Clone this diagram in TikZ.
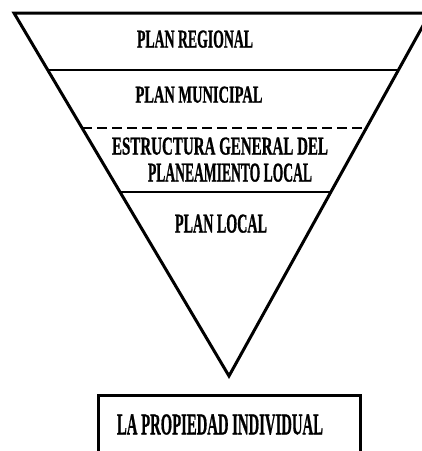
\documentclass[tikz,border=0pt]{standalone}
\usepackage{fontspec}
\setmainfont{Liberation Serif}
\newfontfamily\heavyfont[FakeBold=1.2]{Liberation Serif Bold}
\usepackage{graphicx}
\usetikzlibrary{calc}
\newcommand{\fitlbl}[3]{\resizebox{#1pt}{#2pt}{\heavyfont #3}}
\tikzset{
  edge/.style={line width=3pt, line join=miter},
  divider/.style={line width=2.3pt},
  dashdivider/.style={line width=2.5pt, dash pattern=on 10pt off 5pt},
  lbl/.style={inner sep=0pt, anchor=south}
}
\begin{document}
\begin{tikzpicture}[x=1pt,y=-1pt]
\useasboundingbox (0,0) rectangle (422,451);
\coordinate (TL) at (14,13);
\coordinate (TR) at (430,13);
\coordinate (AP) at (229,376);
\draw[edge] (TL) -- (TR) -- (AP) -- cycle;
\coordinate (L1) at ($(TL)!0.157!(AP)$);
\coordinate (R1) at ($(TR)!0.157!(AP)$);
\coordinate (L2) at ($(TL)!0.3168!(AP)$);
\coordinate (R2) at ($(TR)!0.3168!(AP)$);
\coordinate (L3) at ($(TL)!0.4931!(AP)$);
\coordinate (R3) at ($(TR)!0.4931!(AP)$);
\draw[divider] (L1) -- (R1);
\draw[dashdivider] (L2) -- (R2);
\draw[divider] (L3) -- (R3);
\node[lbl] (regional) at (195,48) {\fitlbl{116}{17}{PLAN REGIONAL}};
\node[lbl] (municipal) at (199,103) {\fitlbl{127}{16}{PLAN MUNICIPAL}};
\node[lbl] (estructura) at (220,155) {\fitlbl{216}{17}{ESTRUCTURA GENERAL DEL}};
\node[lbl] (planeamiento) at (230,182) {\fitlbl{164}{18}{PLANEAMIENTO LOCAL}};
\node[lbl] (local) at (221,233) {\fitlbl{92}{18}{PLAN LOCAL}};
\coordinate (B1) at (98,395);
\coordinate (B2) at (360,470);
\draw[edge] (B1) rectangle (B2);
\node[lbl] (propiedad) at (220,435) {\fitlbl{206}{20}{LA PROPIEDAD INDIVIDUAL}};
\end{tikzpicture}
\end{document}
